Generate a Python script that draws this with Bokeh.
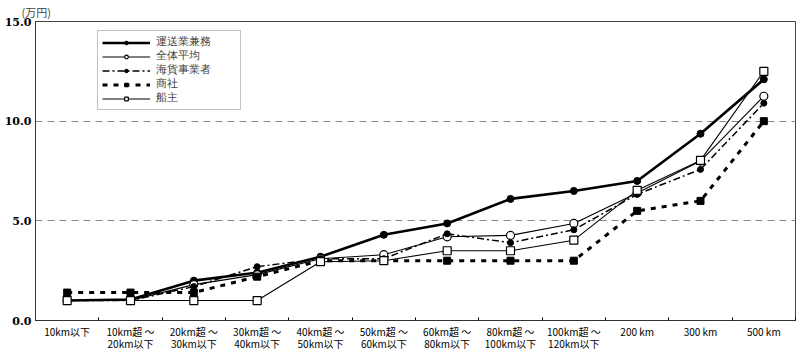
from bokeh.plotting import figure
from bokeh.models import Range1d, FixedTicker, NumeralTickFormatter, Legend, LegendItem, Title
from bokeh.embed import file_html
from bokeh.resources import INLINE

categories = ["10km以下", "10km超 ～\n20km以下", "20km超 ～\n30km以下", "30km超 ～\n40km以下",
              "40km超 ～\n50km以下", "50km超 ～\n60km以下", "60km超 ～\n80km以下", "80km超 ～\n100km以下",
              "100km超 ～\n120km以下", "200 km", "300 km", "500 km"]
unso = [1.0, 1.05, 2.0, 2.4, 3.2, 4.3, 4.87, 6.1, 6.5, 7.0, 9.37, 12.1]
zentai = [1.0, 1.0, 1.8, 2.3, 3.1, 3.3, 4.2, 4.27, 4.87, 6.4, 8.0, 11.25]
kaika = [1.0, 1.0, 1.7, 2.7, 3.1, 3.1, 4.35, 3.9, 4.55, 6.33, 7.58, 10.9]
shosha = [1.4, 1.4, 1.4, 2.2, 3.0, 3.0, 3.0, 3.0, 3.0, 5.5, 6.0, 10.0]
senshu = [1.0, 1.0, 1.0, 1.0, 2.95, 3.0, 3.5, 3.5, 4.03, 6.53, 8.03, 12.5]
series_names = ["運送業兼務", "全体平均", "海貨事業者", "商社", "船主"]
y_ticks = [0, 5, 10, 15]

FONT = "Noto Sans CJK JP"
xs = [i + 0.5 for i in range(len(categories))]

p = figure(width=800, height=356, output_backend="svg", toolbar_location=None,
           x_range=Range1d(0, len(categories)), y_range=Range1d(0, 15),
           min_border_left=35, min_border_right=5, min_border_top=20, min_border_bottom=36)
p.background_fill_color = "white"
p.outline_line_color = "#444"
p.outline_line_width = 1

# axes
p.xaxis.ticker = FixedTicker(ticks=xs, minor_ticks=list(range(len(categories) + 1)))
p.xaxis.major_label_overrides = {x: c for x, c in zip(xs, categories)}
p.xaxis.major_tick_in = 0
p.xaxis.major_tick_out = 0
p.xaxis.minor_tick_in = 3
p.xaxis.minor_tick_out = 0
p.xaxis.major_label_text_font = FONT
p.xaxis.major_label_text_font_size = "10px"
p.xaxis.major_label_text_line_height = 0.85
p.xaxis.major_label_text_color = "black"
p.xaxis.major_label_standoff = 3
p.xaxis.axis_line_color = "#333"

p.yaxis.ticker = FixedTicker(ticks=y_ticks)
p.yaxis.formatter = NumeralTickFormatter(format="0.0")
p.yaxis.major_tick_in = 0
p.yaxis.major_tick_out = 0
p.yaxis.minor_tick_line_color = None
p.yaxis.major_label_text_font = "DejaVu Serif"
p.yaxis.major_label_text_font_style = "bold"
p.yaxis.major_label_text_font_size = "11px"
p.yaxis.major_label_text_color = "black"
p.yaxis.major_label_standoff = 4
p.yaxis.axis_line_color = "#333"

p.xgrid.grid_line_color = None
p.ygrid.ticker = FixedTicker(ticks=[5, 10])
p.ygrid.grid_line_color = "#888"
p.ygrid.grid_line_dash = "7 5"
p.ygrid.grid_line_width = 1

t = Title(text="(万円)", align="left", offset=-14, text_font=FONT, text_font_size="11px",
          text_font_style="normal", standoff=3)
p.add_layout(t, "above")

# series
r1l = p.line(xs, unso, line_color="black", line_width=2.6)
r1m = p.scatter(xs, unso, marker="circle", size=7, fill_color="black", line_color="black")

r2l = p.line(xs, zentai, line_color="black", line_width=1.1)
r2m = p.scatter(xs, zentai, marker="circle", size=8, fill_color="white", line_color="black", line_width=1.2)

r3l = p.line(xs, kaika, line_color="black", line_width=1.5, line_dash="7 3 2 3")
r3m = p.scatter(xs, kaika, marker="circle", size=6, fill_color="black", line_color="black")

r4l = p.line(xs, shosha, line_color="black", line_width=3, line_dash="5 6")
r4m = p.scatter(xs, shosha, marker="square", size=7, fill_color="black", line_color="black")

r5l = p.line(xs, senshu, line_color="black", line_width=1.1)
r5m = p.scatter(xs, senshu, marker="square", size=8, fill_color="white", line_color="black", line_width=1.2)

legend = Legend(items=[
    LegendItem(label=series_names[0], renderers=[r1l, r1m]),
    LegendItem(label=series_names[1], renderers=[r2l, r2m]),
    LegendItem(label=series_names[2], renderers=[r3l, r3m]),
    LegendItem(label=series_names[3], renderers=[r4l, r4m]),
    LegendItem(label=series_names[4], renderers=[r5l, r5m]),
], location=(62, 210))
legend.glyph_width = 48
legend.glyph_height = 9
legend.label_height = 9
legend.label_width = 80
legend.spacing = 0
legend.padding = 4
legend.margin = 0
legend.label_standoff = 6
legend.label_text_font = "Liberation Sans"
legend.label_text_font_size = "10.5px"
legend.label_text_line_height = 0.9
legend.border_line_color = "#888"
legend.border_line_width = 1.5
legend.background_fill_color = "white"
p.add_layout(legend, "center")

open("out.html", "w").write(file_html(p, INLINE))
